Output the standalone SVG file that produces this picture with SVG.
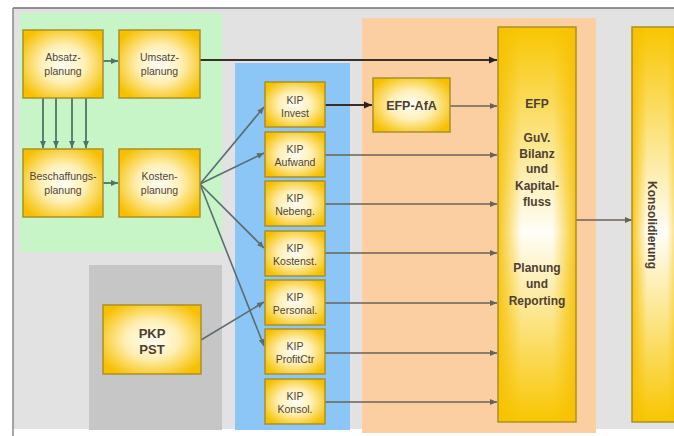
<svg xmlns="http://www.w3.org/2000/svg" width="674" height="436" viewBox="0 0 674 436">
<style>
.box{stroke:#a8902a;stroke-width:1.5}
.t{font-family:"Liberation Sans",Arial,sans-serif;font-size:10.5px;fill:#4e4636;text-anchor:middle}
.tb{font-family:"Liberation Sans",Arial,sans-serif;font-weight:bold;fill:#4e4030;text-anchor:middle}
.c{fill:none;stroke:#6a6258;stroke-width:1.6}
.cg{fill:none;stroke:#4f7464;stroke-width:1.8}
.cf{fill:none;stroke:#5c6c70;stroke-width:1.6}
.cd{fill:none;stroke:#3a2e2a;stroke-width:2.2}
</style>
<defs>
<radialGradient id="rg" cx="50%" cy="50%" r="60%">
<stop offset="0" stop-color="#fffef6"/>
<stop offset="0.45" stop-color="#fff0b8"/>
<stop offset="1" stop-color="#f6c000"/>
</radialGradient>
<linearGradient id="vg" x1="0" y1="0" x2="0" y2="1">
<stop offset="0" stop-color="#f8c600"/>
<stop offset="0.52" stop-color="#fffef8"/>
<stop offset="1" stop-color="#f8c600"/>
</linearGradient>
<linearGradient id="hg" x1="0" y1="0" x2="1" y2="0">
<stop offset="0" stop-color="#f6c000" stop-opacity="0.9"/>
<stop offset="0.3" stop-color="#f6c000" stop-opacity="0"/>
<stop offset="0.7" stop-color="#f6c000" stop-opacity="0"/>
<stop offset="1" stop-color="#f6c000" stop-opacity="0.9"/>
</linearGradient>
<marker id="ah" markerWidth="8" markerHeight="8" refX="7" refY="4" orient="auto" markerUnits="userSpaceOnUse">
<path d="M0,1 L7,4 L0,7 Z" fill="#6a6258"/>
</marker>
<marker id="ahg" markerWidth="8" markerHeight="8" refX="7" refY="4" orient="auto" markerUnits="userSpaceOnUse">
<path d="M0,1 L7,4 L0,7 Z" fill="#4f7464"/>
</marker>
<marker id="ahf" markerWidth="8" markerHeight="8" refX="7" refY="4" orient="auto" markerUnits="userSpaceOnUse">
<path d="M0,1 L7,4 L0,7 Z" fill="#5c6c70"/>
</marker>
<marker id="ahd" markerWidth="9" markerHeight="9" refX="8" refY="4.5" orient="auto" markerUnits="userSpaceOnUse">
<path d="M0,1 L8,4.5 L0,8 Z" fill="#2a2020"/>
</marker>
</defs>
<rect width="674" height="436" fill="#ffffff"/>
<g id="frame">
<rect x="13" y="8" width="662" height="421" fill="#e2e2e2"/>
<line x1="13" y1="8" x2="674" y2="8" stroke="#707070" stroke-width="1.5"/>
<line x1="13" y1="8" x2="13" y2="436" stroke="#8a8a8a" stroke-width="1.5"/>
</g>
<g id="panels">
<rect x="20" y="13" width="202" height="239" fill="#c8f5c8"/>
<rect x="89" y="265" width="133" height="165" fill="#c6c6c6"/>
<rect x="235" y="63" width="115" height="367" fill="#8cc6f6"/>
<rect x="362" y="18" width="234" height="415" fill="#fccfa2"/>
</g>
<g id="connectors">
<line class="cg" x1="103" y1="61" x2="118" y2="61" marker-end="url(#ahg)"/>
<line class="cg" x1="103" y1="183" x2="118" y2="183" marker-end="url(#ahg)"/>
<line class="cg" x1="43" y1="98" x2="43" y2="148" marker-end="url(#ahg)"/>
<line class="cg" x1="56" y1="98" x2="56" y2="148" marker-end="url(#ahg)"/>
<line class="cg" x1="72" y1="98" x2="72" y2="148" marker-end="url(#ahg)"/>
<line class="cg" x1="86" y1="98" x2="86" y2="148" marker-end="url(#ahg)"/>
<line class="cd" x1="200" y1="60" x2="497" y2="60" marker-end="url(#ahd)"/>
<line class="cf" x1="200" y1="184" x2="264" y2="107" marker-end="url(#ahf)"/>
<line class="cf" x1="200" y1="184" x2="264" y2="153" marker-end="url(#ahf)"/>
<line class="cf" x1="200" y1="184" x2="264" y2="248" marker-end="url(#ahf)"/>
<line class="cf" x1="200" y1="184" x2="264" y2="346" marker-end="url(#ahf)"/>
<line class="cf" x1="201" y1="340" x2="264" y2="302" marker-end="url(#ahf)"/>
<line class="cd" x1="325" y1="105" x2="372" y2="105" marker-end="url(#ahd)"/>
<line class="c" x1="450" y1="106" x2="497" y2="106" marker-end="url(#ah)"/>
<line class="c" x1="325" y1="155" x2="497" y2="155" marker-end="url(#ah)"/>
<line class="c" x1="325" y1="204" x2="497" y2="204" marker-end="url(#ah)"/>
<line class="c" x1="325" y1="253" x2="497" y2="253" marker-end="url(#ah)"/>
<line class="c" x1="325" y1="303" x2="497" y2="303" marker-end="url(#ah)"/>
<line class="c" x1="325" y1="353" x2="497" y2="353" marker-end="url(#ah)"/>
<line class="c" x1="325" y1="402" x2="497" y2="402" marker-end="url(#ah)"/>
<line class="c" x1="576" y1="220" x2="632" y2="220" marker-end="url(#ah)"/>
</g>
<g id="absatz">
<rect class="box" x="23" y="30" width="80" height="68" fill="url(#rg)"/>
<text class="t" x="63" y="61">Absatz-</text><text class="t" x="63" y="75">planung</text>
</g>
<g id="umsatz">
<rect class="box" x="119" y="30" width="81" height="68" fill="url(#rg)"/>
<text class="t" x="159.5" y="61">Umsatz-</text><text class="t" x="159.5" y="75">planung</text>
</g>
<g id="beschaffung">
<rect class="box" x="23" y="149" width="80" height="68" fill="url(#rg)"/>
<text class="t" x="63" y="180">Beschaffungs-</text><text class="t" x="63" y="194">planung</text>
</g>
<g id="kosten">
<rect class="box" x="119" y="149" width="81" height="68" fill="url(#rg)"/>
<text class="t" x="159.5" y="180">Kosten-</text><text class="t" x="159.5" y="194">planung</text>
</g>
<g id="pkp">
<rect class="box" x="103" y="305" width="98" height="69" fill="url(#rg)"/>
<text class="tb" x="152" y="338" font-size="13">PKP</text><text class="tb" x="152" y="354" font-size="13">PST</text>
</g>
<g id="kip-invest">
<rect class="box" x="265" y="82" width="60" height="45" fill="url(#rg)"/>
<text class="t" x="295" y="104">KIP</text><text class="t" x="295" y="117">Invest</text>
</g>
<g id="kip-aufwand">
<rect class="box" x="265" y="132" width="60" height="45" fill="url(#rg)"/>
<text class="t" x="295" y="153">KIP</text><text class="t" x="295" y="166">Aufwand</text>
</g>
<g id="kip-nebeng">
<rect class="box" x="265" y="181" width="60" height="45" fill="url(#rg)"/>
<text class="t" x="295" y="202">KIP</text><text class="t" x="295" y="215">Nebeng.</text>
</g>
<g id="kip-kostenst">
<rect class="box" x="265" y="231" width="60" height="45" fill="url(#rg)"/>
<text class="t" x="295" y="252">KIP</text><text class="t" x="295" y="265">Kostenst.</text>
</g>
<g id="kip-personal">
<rect class="box" x="265" y="280" width="60" height="45" fill="url(#rg)"/>
<text class="t" x="295" y="301">KIP</text><text class="t" x="295" y="314">Personal.</text>
</g>
<g id="kip-profitctr">
<rect class="box" x="265" y="329" width="60" height="45" fill="url(#rg)"/>
<text class="t" x="295" y="350">KIP</text><text class="t" x="295" y="363">ProfitCtr</text>
</g>
<g id="kip-konsol">
<rect class="box" x="265" y="379" width="60" height="45" fill="url(#rg)"/>
<text class="t" x="295" y="400">KIP</text><text class="t" x="295" y="413">Konsol.</text>
</g>
<g id="efp-afa">
<rect class="box" x="373" y="78" width="77" height="54" fill="url(#rg)"/>
<text class="tb" x="411.5" y="110" font-size="12.5">EFP-AfA</text>
</g>
<g id="efp">
<rect x="498" y="27" width="78" height="395" fill="url(#vg)"/>
<rect class="box" x="498" y="27" width="78" height="395" fill="url(#hg)"/>
<text class="tb" x="537" y="108" font-size="12">EFP</text>
<text class="tb" x="537" y="142" font-size="12">GuV.</text>
<text class="tb" x="537" y="158" font-size="12">Bilanz</text>
<text class="tb" x="537" y="173" font-size="12">und</text>
<text class="tb" x="537" y="190" font-size="12">Kapital-</text>
<text class="tb" x="537" y="206" font-size="12">fluss</text>
<text class="tb" x="537" y="272" font-size="12">Planung</text>
<text class="tb" x="537" y="288" font-size="12">und</text>
<text class="tb" x="537" y="305" font-size="12">Reporting</text>
</g>
<g id="konsolidierung">
<rect x="632" y="27" width="50" height="395" fill="url(#vg)"/>
<rect class="box" x="632" y="27" width="50" height="395" fill="url(#hg)"/>
<text class="tb" font-size="12" transform="translate(648,225) rotate(90)">Konsolidierung</text>
</g>
</svg>
